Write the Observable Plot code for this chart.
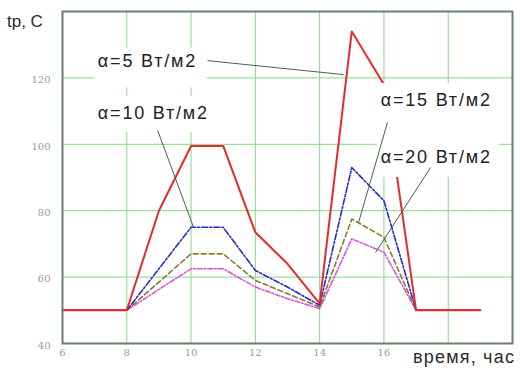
<!DOCTYPE html>
<html>
<head>
<meta charset="utf-8">
<script src="https://cdn.jsdelivr.net/npm/d3@7"></script>
<script src="https://cdn.jsdelivr.net/npm/@observablehq/plot@0.6"></script>
<style>
  html, body { margin: 0; padding: 0; background: #fff; }
  #wrap { position: relative; width: 520px; height: 369px; overflow: hidden; }
  .ttl { position: absolute; font-family: "Liberation Sans", Arial, sans-serif; color: #2a2a2a; white-space: nowrap; }
</style>
</head>
<body>
<div id="wrap">
  <div id="chart"></div>
  <div class="ttl" id="ytitle" style="left:7px; top:12px; font-size:17px;">tp, C</div>
  <div class="ttl" id="xtitle" style="left:413px; top:347px; font-size:18px; letter-spacing:1.2px;">время, час</div>
</div>
<script>
// ---- data ----
const hours = [6, 8, 9, 10, 11, 12, 13, 14, 15, 16, 17, 19];
const a5  = [50, 50, 80, 99.5, 99.5, 73.5, 64, 52, 134, 118, 50, 50];
const a10 = [50, 50, 62.5, 75, 75, 62, 57, 51.5, 93, 83, 50, 50];
const a15 = [50, 50, 58.5, 67, 67, 59, 55, 51, 77.5, 72, 50, 50];
const a20 = [50, 50, 56.3, 62.5, 62.5, 57, 53.5, 50.5, 71.5, 67.5, 50, 50];

const xTicks = [6, 8, 10, 12, 14, 16];
const yTicks = [40, 60, 80, 100, 120];
const xGrid = [8, 10, 12, 14, 16, 18];
const yGrid = [60, 80, 100, 120];

// annotation labels (data coordinates)
const labelText = ["α=5 Вт/м2", "α=10 Вт/м2", "α=15 Вт/м2", "α=20 Вт/м2"];
const labelX = [7.1, 7.1, 15.9, 15.9];
const labelY = [125, 109.3, 113.2, 96];
// white label boxes
const boxX1 = [7.0, 7.0, 15.8, 15.8];
const boxX2 = [10.5, 10.6, 19.6, 19.6];
const boxY1 = [117, 103.5, 104.8, 90];
const boxY2 = [129, 114.5, 118.3, 104.8];
// leader lines
const leadX1 = [10.51, 8.96, 16.11, 17.45];
const leadY1 = [125.2, 104.2, 106.6, 93];
const leadX2 = [14.74, 10.08, 15.21, 15.74];
const leadY2 = [121, 74.9, 76.4, 67.4];

const mk = (vals) => hours.map((h, i) => ({x: h, y: vals[i]}));
const labels = labelText.map((t, i) => ({t, x: labelX[i], y: labelY[i]}));
const boxes = boxX1.map((v, i) => ({x1: v, x2: boxX2[i], y1: boxY1[i], y2: boxY2[i]}));
const leads = leadX1.map((v, i) => ({x1: v, y1: leadY1[i], x2: leadX2[i], y2: leadY2[i]}));

const gridColor = "#86d886";

const chart = Plot.plot({
  width: 520,
  height: 369,
  marginLeft: 62,
  marginRight: 8,
  marginTop: 11,
  marginBottom: 26,
  style: {background: "#fff", fontFamily: "'DejaVu Serif', serif"},
  x: {domain: [6, 20], axis: null},
  y: {domain: [40, 140], axis: null},
  marks: [
    Plot.gridX(xGrid, {stroke: gridColor, strokeOpacity: 1, strokeWidth: 1}),
    Plot.gridY(yGrid, {stroke: gridColor, strokeOpacity: 1, strokeWidth: 1}),
    Plot.line(mk(a20), {x: "x", y: "y", stroke: "#e050e0", strokeWidth: 1.6, strokeDasharray: "5,2,1.5,2"}),
    Plot.line(mk(a15), {x: "x", y: "y", stroke: "#8a7a30", strokeWidth: 1.6, strokeDasharray: "5,3"}),
    Plot.line(mk(a10), {x: "x", y: "y", stroke: "#2a2acc", strokeWidth: 1.6, strokeDasharray: "6,2,2,2"}),
    Plot.line(mk(a5), {x: "x", y: "y", stroke: "#e62a2a", strokeWidth: 2}),
    Plot.rect(boxes, {x1: "x1", x2: "x2", y1: "y1", y2: "y2", fill: "#fff"}),
    Plot.link(leads, {x1: "x1", y1: "y1", x2: "x2", y2: "y2", stroke: "#4f5f4f", strokeWidth: 1}),
    Plot.text(labels, {x: "x", y: "y", text: "t", textAnchor: "start", fontSize: 18,
      fill: "#222", fontFamily: "'Liberation Sans', Arial, sans-serif"}),
    Plot.axisX(xTicks, {tickSize: 0, tickPadding: 5, color: "#999", fontSize: 10}),
    Plot.axisY(yTicks, {tickSize: 0, tickPadding: 12, color: "#999", fontSize: 10, dy: 2}),
    Plot.frame({stroke: "#6b806b", strokeWidth: 2})
  ]
});
d3.select(chart).selectAll("g[aria-label='text'] text").style("letter-spacing", "1.8px");
document.getElementById("chart").appendChild(chart);
</script>
</body>
</html>
